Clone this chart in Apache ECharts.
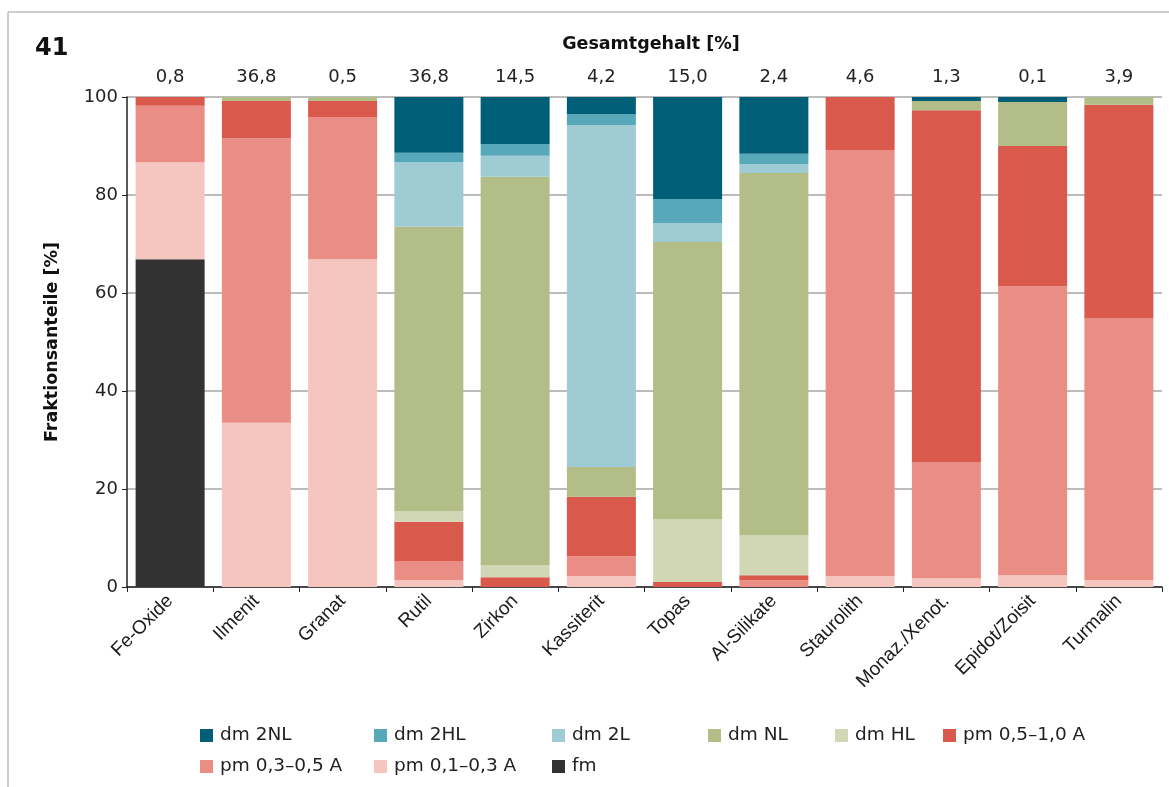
<!DOCTYPE html>
<html>
<head>
<meta charset="utf-8">
<script src="https://cdn.jsdelivr.net/npm/echarts@6/dist/echarts.min.js"></script>
<style>
html,body{margin:0;padding:0;background:#fff;}
#chart{width:1169px;height:787px;}
</style>
</head>
<body>
<div id="chart"></div>
<script>
const categories = ['Fe-Oxide','Ilmenit','Granat','Rutil','Zirkon','Kassiterit','Topas','Al-Silikate','Staurolith','Monaz./Xenot.','Epidot/Zoisit','Turmalin'];
const gesamtgehalt = ['0,8','36,8','0,5','36,8','14,5','4,2','15,0','2,4','4,6','1,3','0,1','3,9'];
const yTicks = [0, 20, 40, 60, 80, 100];

// stacked bottom to top
const fm     = [66.9, 0, 0, 0, 0, 0, 0, 0, 0, 0, 0, 0];
const pm01   = [19.8, 33.5, 66.9, 1.4, 0, 2.2, 0, 0, 2.2, 1.8, 2.4, 1.4];
const pm03   = [11.5, 58.1, 29.0, 3.9, 0, 4.1, 0, 1.4, 87.0, 23.7, 59.0, 53.5];
const pm05   = [1.8, 7.6, 3.3, 8.0, 2.0, 12.1, 1.0, 1.0, 10.8, 71.8, 28.6, 43.5];
const dmHL   = [0, 0, 0, 2.2, 2.5, 0, 12.9, 8.2, 0, 0, 0, 0];
const dmNL   = [0, 0.8, 0.8, 58.0, 79.2, 6.1, 56.5, 73.9, 0, 1.9, 9.0, 1.6];
const dm2L   = [0, 0, 0, 13.2, 4.3, 69.8, 3.9, 1.8, 0, 0, 0, 0];
const dm2HL  = [0, 0, 0, 1.9, 2.4, 2.2, 4.9, 2.1, 0, 0, 0, 0];
const dm2NL  = [0, 0, 0, 11.4, 9.6, 3.5, 20.8, 11.6, 0, 0.8, 1.0, 0];

const seriesDefs = [
  {name: 'fm', data: fm, color: '#323232'},
  {name: 'pm 0,1–0,3 A', data: pm01, color: '#f5c5c0'},
  {name: 'pm 0,3–0,5 A', data: pm03, color: '#ea8d85'},
  {name: 'pm 0,5–1,0 A', data: pm05, color: '#d9594d'},
  {name: 'dm HL', data: dmHL, color: '#d1d6b5'},
  {name: 'dm NL', data: dmNL, color: '#b3bd88'},
  {name: 'dm 2L', data: dm2L, color: '#9ecbd4'},
  {name: 'dm 2HL', data: dm2HL, color: '#57a9b9'},
  {name: 'dm 2NL', data: dm2NL, color: '#015e77'}
];

const legendLayout = [
  ['dm 2NL', 195, 721], ['dm 2HL', 369, 721], ['dm 2L', 547, 721],
  ['dm NL', 703, 721], ['dm HL', 830, 721], ['pm 0,5–1,0 A', 938, 721],
  ['pm 0,3–0,5 A', 195, 752], ['pm 0,1–0,3 A', 369, 752], ['fm', 547, 752]
];

const font = '"DejaVu Sans", sans-serif';
const arial = '"Liberation Sans", Arial, sans-serif';
const chart = echarts.init(document.getElementById('chart'), null, {renderer: 'canvas'});

const option = {
  animation: false,
  backgroundColor: '#fff',
  textStyle: {fontFamily: font},
  title: [
    {text: '41', left: 35, top: 37, padding: 0, textStyle: {fontSize: 24, fontWeight: 'bold', color: '#111', fontFamily: font}},
    {text: 'Gesamtgehalt [%]', left: 651, textAlign: 'center', top: 35, padding: 0, textStyle: {fontSize: 17.5, fontWeight: 'bold', color: '#111', fontFamily: font}}
  ],
  legend: legendLayout.map(l => ({
    data: [l[0]], left: l[1], top: l[2], itemWidth: 13, itemHeight: 13, itemGap: 0,
    icon: 'rect', textStyle: {fontSize: 18.5, color: '#222', fontFamily: font, padding: [0,0,0,2]}
  })),
  grid: {left: 127, right: 7, top: 97, bottom: 200, containLabel: false},
  xAxis: [
    {
      type: 'category', data: categories, position: 'bottom',
      axisLine: {lineStyle: {color: '#222', width: 1.5}},
      axisTick: {show: true, alignWithLabel: false, length: 5, lineStyle: {color: '#222'}},
      axisLabel: {rotate: 45, fontSize: 19, color: '#1a1a1a', margin: 11, fontFamily: arial, interval: 0}
    },
    {
      type: 'category', data: gesamtgehalt, position: 'top',
      axisLine: {show: false}, axisTick: {show: false},
      axisLabel: {fontSize: 18, color: '#222', margin: 11, fontFamily: font, interval: 0}
    }
  ],
  yAxis: {
    type: 'value', min: yTicks[0], max: yTicks[yTicks.length - 1], interval: 20,
    name: 'Fraktionsanteile [%]', nameLocation: 'middle', nameGap: 66,
    nameTextStyle: {fontSize: 17.5, fontWeight: 'bold', color: '#111', fontFamily: font},
    axisLine: {show: true, lineStyle: {color: '#222', width: 1.5}},
    axisTick: {show: true, length: 5, lineStyle: {color: '#222'}},
    axisLabel: {fontSize: 18, color: '#222', margin: 9, fontFamily: font},
    splitLine: {show: true, lineStyle: {color: '#a6a6a6', width: 1.5}}
  },
  series: seriesDefs.map(s => ({
    name: s.name, type: 'bar', stack: 'total', data: s.data,
    xAxisIndex: 0, barCategoryGap: '20%',
    itemStyle: {color: s.color}
  })),
  graphic: [
    {type: 'line', shape: {x1: 8, y1: 12, x2: 1169, y2: 12}, style: {stroke: '#bdbdbd', lineWidth: 1.5}},
    {type: 'line', shape: {x1: 8, y1: 12, x2: 8, y2: 787}, style: {stroke: '#bdbdbd', lineWidth: 1.5}}
  ]
};
chart.setOption(option);
</script>
</body>
</html>
